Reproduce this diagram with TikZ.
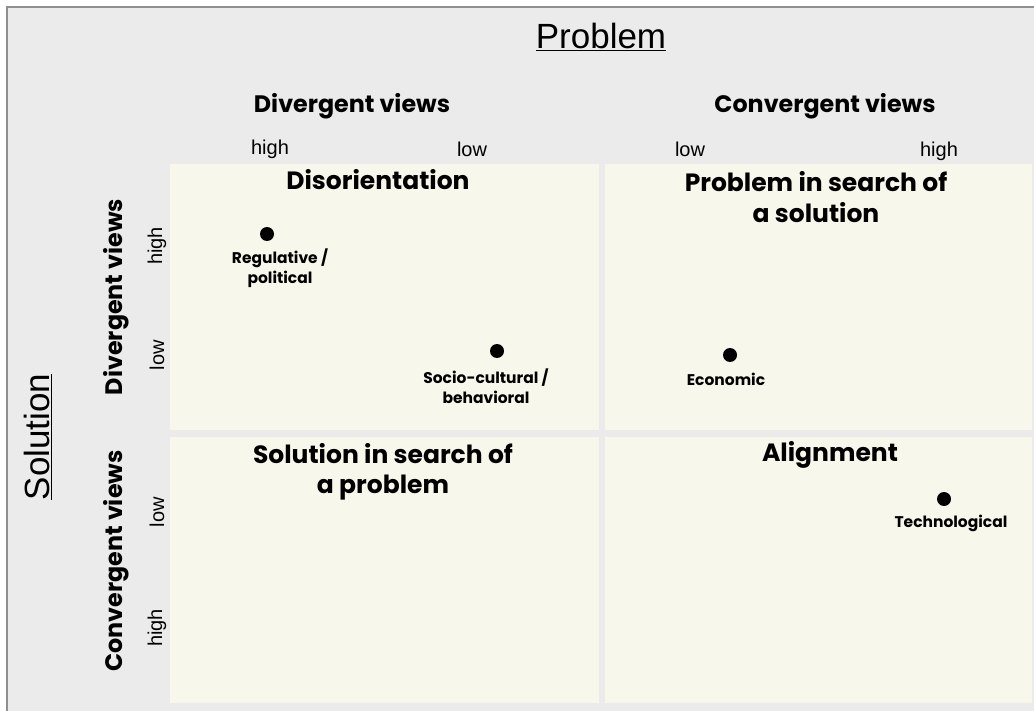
\documentclass[tikz,border=0pt]{standalone}
\usepackage{fontspec}
\setmainfont{Liberation Sans}
\newfontfamily\hfont{Poppins}
\definecolor{bggray}{HTML}{EBEBEB}
\definecolor{framegray}{HTML}{8F8F8F}
\definecolor{quadfill}{HTML}{F8F7EC}
\begin{document}
\begin{tikzpicture}[x=1pt,y=-1pt,
  quad/.style={fill=quadfill,draw=none},
  axistitle/.style={font=\fontsize{35}{40}\selectfont},
  views/.style={font=\hfont\bfseries\fontsize{23.8}{26}\selectfont},
  lvl/.style={font=\fontsize{20}{20}\selectfont},
  qtitle/.style={font=\hfont\bfseries\fontsize{25}{30.5}\selectfont,align=center},
  ptlabel/.style={font=\hfont\bfseries\fontsize{15.5}{20}\selectfont,align=center},
  dot/.style={circle,fill=black,inner sep=0pt,minimum size=14pt}]
\useasboundingbox (0,0) rectangle (1034,711);
\fill[white] (0,0) rectangle (1034,711);
\fill[bggray] (7,7) rectangle (1034,711);
\draw[framegray,line width=2pt] (7,711) -- (7,7) -- (1034,7);
% quadrants
\fill[quad] (170,164) rectangle (599,430);
\fill[quad] (605,164) rectangle (1032,430);
\fill[quad] (170,437) rectangle (599,703);
\fill[quad] (605,437) rectangle (1032,703);
% axis titles
\node[axistitle] (prob) at (601,37) {\underline{Problem}};
\node[axistitle,rotate=90] (sol) at (38,437) {\underline{Solution}};
% column headers
\node[views] (cdiv) at (352,106) {Divergent views};
\node[views] (cconv) at (825,106) {Convergent views};
\node[lvl] (c1) at (270,149) {high};
\node[lvl] (c2) at (472,149) {low};
\node[lvl] (c3) at (690,149) {low};
\node[lvl] (c4) at (939,151) {high};
% row headers
\node[views,rotate=90] (rdiv) at (116,297) {Divergent views};
\node[views,rotate=90] (rconv) at (116,561) {Convergent views};
\node[lvl,rotate=90] (r1) at (157,246) {high};
\node[lvl,rotate=90] (r2) at (157,355) {low};
\node[lvl,rotate=90] (r3) at (157,512) {low};
\node[lvl,rotate=90] (r4) at (157,628) {high};
% quadrant titles
\node[qtitle] (q1) at (378,180) {Disorientation};
\node[qtitle] (q2) at (816,197) {Problem in search of\\a solution};
\node[qtitle] (q3) at (383,472) {Solution in search of\\a problem};
\node[qtitle] (q4) at (830,455) {Alignment};
% points
\node[dot] (p1) at (267,234) {};
\node[ptlabel] (l1) at (280,268) {Regulative /\\political};
\node[dot] (p2) at (497,351) {};
\node[ptlabel] (l2) at (486,386) {Socio-cultural /\\behavioral};
\node[dot] (p3) at (730,355) {};
\node[ptlabel] (l3) at (726,379) {Economic};
\node[dot] (p4) at (944,499) {};
\node[ptlabel] (l4) at (951,523) {Technological};
\end{tikzpicture}
\end{document}
